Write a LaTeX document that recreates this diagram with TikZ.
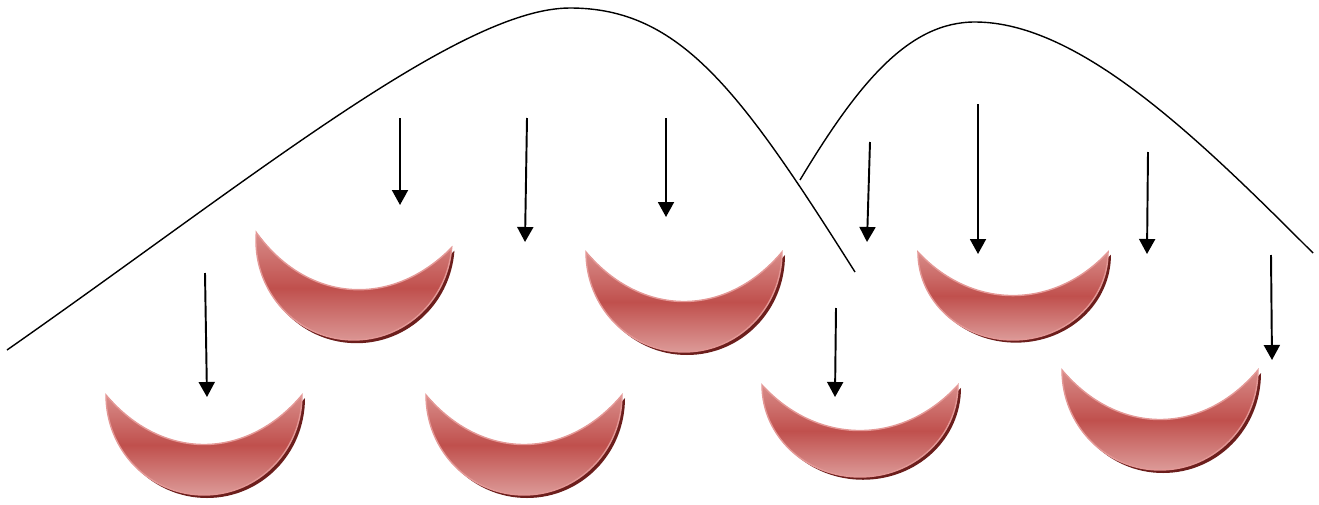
\documentclass[tikz,border=0pt]{standalone}
\usetikzlibrary{arrows.meta}
\definecolor{CupRed}{RGB}{192,80,77}
\definecolor{CupLight}{RGB}{216,140,137}
\definecolor{CupPale}{RGB}{220,154,152}
\definecolor{CupEdge}{RGB}{228,152,150}
\definecolor{CupDark}{RGB}{108,30,28}
\tikzset{
  cup/shadow/.style={fill=CupDark},
  cup/body/.style={
    draw=CupEdge,
    line width=0.8pt,
    top color=CupLight,
    bottom color=CupPale,
    middle color=CupRed
  },
  cup/arrow/.style={-{Triangle[length=0.3cm,width=0.32cm]}, line width=1.1pt, draw=black},
  cup/curve/.style={line width=0.8pt, draw=black},
  pics/cup/.style={code={
    \path[cup/shadow, shift={(3,3)}] (-98,0) .. controls (-42,66) and (42,66) .. (98,0)
      .. controls (98,56) and (54,100) .. (0,100) .. controls (-54,100) and (-98,56) .. (-98,0) -- cycle;
    \path[cup/body] (-98,0) .. controls (-42,66) and (42,66) .. (98,0)
      .. controls (98,56) and (54,100) .. (0,100) .. controls (-54,100) and (-98,56) .. (-98,0) -- cycle;
  }}
}

\begin{document}
\begin{tikzpicture}[x=0.02cm,y=-0.02cm]
  \useasboundingbox (0,0) rectangle (1319,504);
  % the two humps
  \draw[cup/curve] (7,350) .. controls (250,180) and (460,8) .. (570,8)
    .. controls (680,8) and (740,90) .. (855,272);
  \draw[cup/curve] (800,180) .. controls (860,80) and (910,22) .. (975,22)
    .. controls (1080,22) and (1200,140) .. (1313,253);
  % cups, upper row
  \pic[rotate=-4.4] (c1) at (354,240) {cup};
  \pic (c2) at (684,252) {cup};
  \pic[xscale=0.97,yscale=0.88] (c3) at (1013,252) {cup};
  % cups, lower row
  \pic (c4) at (204,395) {cup};
  \pic (c5) at (524,395) {cup};
  \pic[yscale=0.92] (c6) at (860,385) {cup};
  \pic (c7) at (1160,370) {cup};
  % falling arrows
  \foreach \xa/\ya/\xb/\yb in {205/273/207/397, 400/118/400/205, 527/118/525/242,
    666/118/666/217, 870/142/867/242, 978/104/978/254, 1148/152/1147/254,
    1271/255/1272/360, 836/308/835/397}{
    \draw[cup/arrow] (\xa,\ya) -- (\xb,\yb);
  }
\end{tikzpicture}
\end{document}
